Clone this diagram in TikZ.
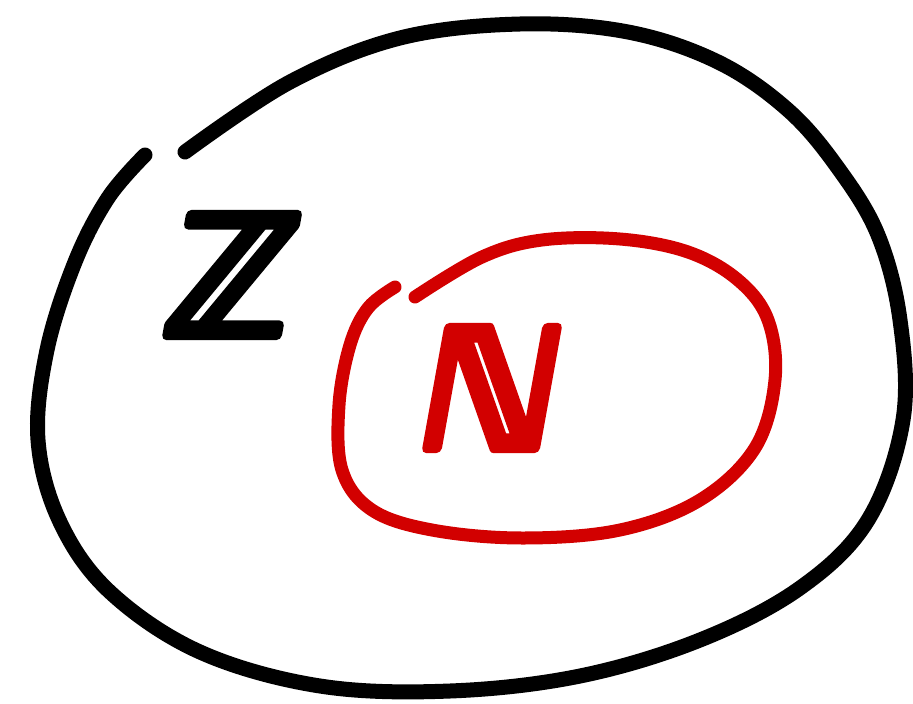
\documentclass[tikz,border=0pt]{standalone}
\usepackage{fontspec}
\newfontfamily\dejavubold{DejaVu Sans Bold}
\definecolor{setred}{RGB}{210,0,0}
\newcommand{\thicktext}[1]{\special{pdf:code 2 Tr 10 w 1 j 1 J}#1\special{pdf:code 0 Tr 1 w}}
\tikzset{
  setline/.style={line width=15pt, line cap=round, line join=round},
  setlabel/.style={inner sep=0pt, xslant=0.18, transform shape,
    font=\dejavubold\fontsize{165}{165}\selectfont}
}
\begin{document}
\begin{tikzpicture}[x=1pt,y=-1pt]
\useasboundingbox (0,0) rectangle (913,704);
% outer set Z
\draw[setline, black] plot[smooth, tension=0.6] coordinates {
 (145,155) (108,198) (75,262) (47,350) (38,440) (60,522) (110,592)
 (200,652) (320,686) (450,691) (580,676) (700,640) (800,588) (868,520)
 (903,420) (900,320) (878,235) (838,168) (788,110) (718,62) (628,32)
 (520,24) (400,38) (290,82) (185,152)};
% inner set N
\draw[setline, setred, line width=13pt] plot[smooth, tension=0.6] coordinates {
 (395,287) (368,308) (350,345) (339,405) (342,470) (372,510) (432,530)
 (522,538) (620,530) (700,500) (755,448) (775,380) (768,320) (738,280)
 (688,252) (620,239) (542,240) (482,257) (415,297)};
\node[setlabel, black] (Z) at (233,275) {\thicktext{ℤ}};
\node[setlabel, setred] (N) at (492,388) {\thicktext{ℕ}};
\end{tikzpicture}
\end{document}
